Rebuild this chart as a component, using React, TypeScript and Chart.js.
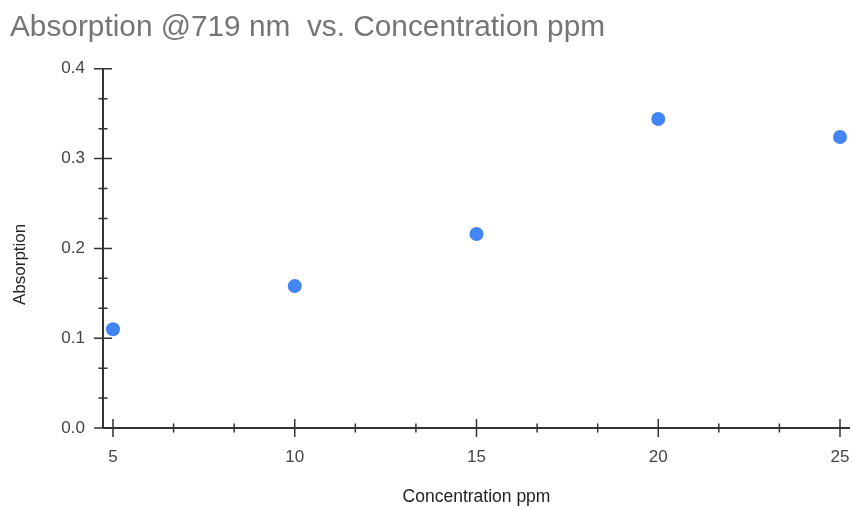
import React, { useEffect, useRef } from "react";
import { Chart, registerables } from "chart.js";

Chart.register(...registerables);

const chartTitle = "Absorption @719 nm  vs. Concentration ppm";
const xAxisTitle = "Concentration ppm";
const yAxisTitle = "Absorption";

const concentration = [5, 10, 15, 20, 25];
const absorption = [0.11, 0.158, 0.216, 0.344, 0.324];

const xMajorTicks = [5, 10, 15, 20, 25];
const yMajorTicks = [0, 0.1, 0.2, 0.3, 0.4];
const minorDivisions = 3;

const xMin = 4.725;
const xMax = 25.275;
const yMin = 0;
const yMax = 0.4;

const FONT = "'Liberation Sans', Arial, sans-serif";
const AXIS_COLOR = "#333333";

function minorValues(majors: number[]): number[] {
  const out: number[] = [];
  for (let i = 0; i < majors.length - 1; i++) {
    const a = majors[i];
    const b = majors[i + 1];
    for (let k = 1; k < minorDivisions; k++) {
      out.push(a + ((b - a) * k) / minorDivisions);
    }
  }
  return out;
}

const axesPlugin = {
  id: "customAxes",
  beforeDatasetsDraw(chart: any) {
    const { ctx, chartArea, scales } = chart;
    const xs = scales.x;
    const ys = scales.y;
    const x0 = chartArea.left;
    const y0 = chartArea.bottom;
    ctx.save();
    ctx.strokeStyle = AXIS_COLOR;
    ctx.lineWidth = 2;
    ctx.beginPath();
    ctx.moveTo(x0, chartArea.top);
    ctx.lineTo(x0, y0);
    ctx.moveTo(x0, y0);
    ctx.lineTo(chartArea.right, y0);
    ctx.stroke();

    ctx.lineWidth = 1.5;
    ctx.beginPath();
    yMajorTicks.forEach((v) => {
      const p = ys.getPixelForValue(v);
      ctx.moveTo(x0 - 9, p);
      ctx.lineTo(x0 + 9, p);
    });
    minorValues(yMajorTicks).forEach((v) => {
      const p = ys.getPixelForValue(v);
      ctx.moveTo(x0 - 4.5, p);
      ctx.lineTo(x0 + 4.5, p);
    });
    xMajorTicks.forEach((v) => {
      const p = xs.getPixelForValue(v);
      ctx.moveTo(p, y0 - 9);
      ctx.lineTo(p, y0 + 9);
    });
    minorValues(xMajorTicks).forEach((v) => {
      const p = xs.getPixelForValue(v);
      ctx.moveTo(p, y0 - 4.5);
      ctx.lineTo(p, y0 + 4.5);
    });
    ctx.stroke();

    // y axis title (placed like the reference, slightly below the axis centre)
    ctx.fillStyle = "#222222";
    ctx.font = `17px ${FONT}`;
    ctx.textAlign = "center";
    ctx.textBaseline = "middle";
    ctx.translate(20, (chartArea.top + chartArea.bottom) / 2 + 16);
    ctx.rotate(-Math.PI / 2);
    ctx.fillText(yAxisTitle, 0, 0);
    ctx.restore();
  },
};

export default function App() {
  const canvasRef = useRef<HTMLCanvasElement | null>(null);

  useEffect(() => {
    const canvas = canvasRef.current;
    if (!canvas) return;
    const chart = new Chart(canvas, {
      type: "scatter",
      data: {
        datasets: [
          {
            data: concentration.map((x, i) => ({ x, y: absorption[i] })),
            backgroundColor: "#4285F4",
            borderWidth: 0,
            pointRadius: 7,
            pointHoverRadius: 7,
            clip: false,
          },
        ],
      },
      plugins: [axesPlugin],
      options: {
        animation: false,
        responsive: false,
        maintainAspectRatio: false,
        devicePixelRatio: 1,
        layout: { autoPadding: false, padding: { left: 10, right: 3, top: 0, bottom: 0 } },
        plugins: {
          legend: { display: false },
          tooltip: { enabled: false },
          title: {
            display: true,
            text: chartTitle,
            align: "start",
            color: "#757575",
            font: { family: FONT, size: 29.8, weight: "normal" },
            padding: { top: 10, bottom: 23 },
          },
        },
        scales: {
          x: {
            type: "linear",
            min: xMin,
            max: xMax,
            grid: { display: false },
            border: { display: false },
            afterBuildTicks: (s: any) => {
              s.ticks = xMajorTicks.map((v) => ({ value: v }));
            },
            afterFit: (s: any) => {
              s.height = 80;
              s.paddingLeft = 0;
              s.paddingRight = 0;
            },
            ticks: {
              autoSkip: false,
              maxRotation: 0,
              padding: 11,
              color: "#444444",
              font: { family: FONT, size: 17 },
              callback: (v: any) => String(v),
            },
            title: {
              display: true,
              text: xAxisTitle,
              color: "#222222",
              font: { family: FONT, size: 17.5 },
              padding: { top: 0, bottom: 0 },
            },
          },
          y: {
            type: "linear",
            min: yMin,
            max: yMax,
            grid: { display: false },
            border: { display: false },
            afterBuildTicks: (s: any) => {
              s.ticks = yMajorTicks.map((v) => ({ value: v }));
            },
            afterFit: (s: any) => {
              s.width = 93;
              s.paddingTop = 0;
              s.paddingBottom = 0;
            },
            ticks: {
              autoSkip: false,
              padding: 10,
              color: "#444444",
              font: { family: FONT, size: 17 },
              callback: (v: any) => Number(v).toFixed(1),
            },
            title: { display: false },
          },
        },
      },
    });
    return () => chart.destroy();
  }, []);

  return (
    <div style={{ position: "fixed", left: 0, top: 0, width: 853, height: 508, background: "#ffffff" }}>
      <canvas ref={canvasRef} width={853} height={508} style={{ display: "block", width: 853, height: 508 }} />
    </div>
  );
}
